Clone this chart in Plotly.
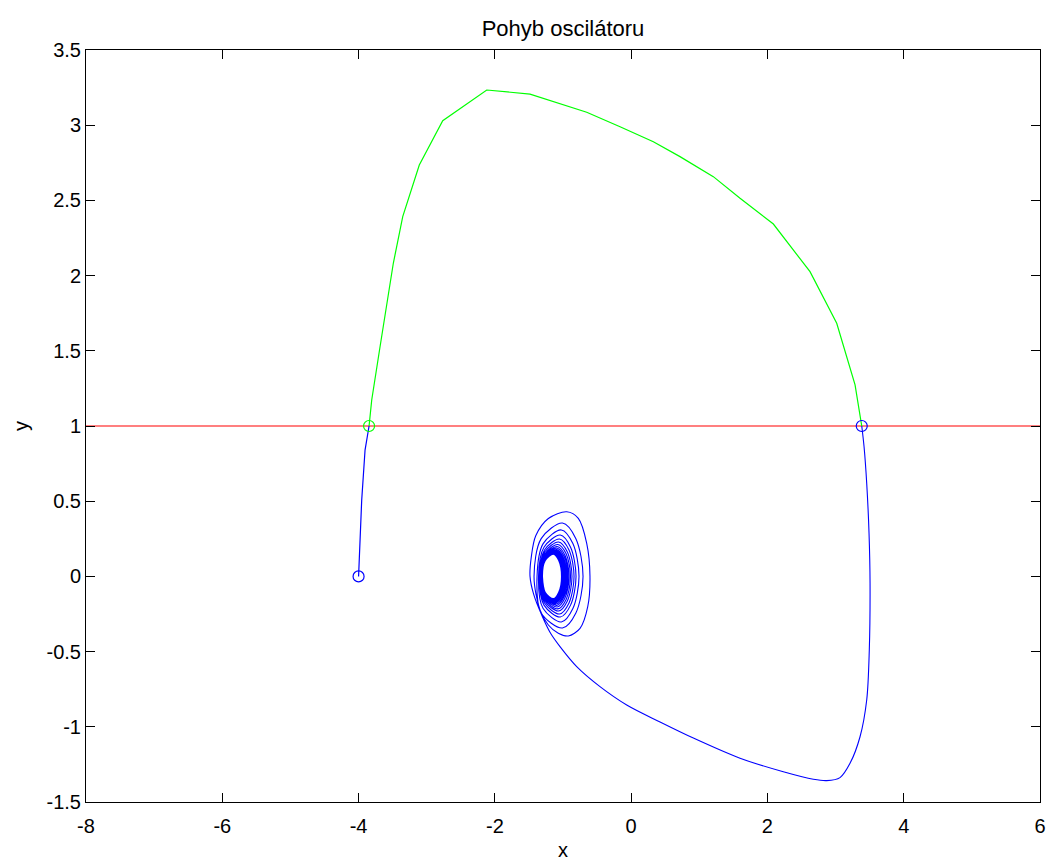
import plotly.graph_objects as go

# ---------------- data ----------------
# start segment (blue), below y = 1
start_x = [-4.0, -3.954, -3.905, -3.846]
start_y = [0.0, 0.508, 0.840, 1.0]

# part above the threshold (green)
green_x = [-3.846, -3.807, -3.685, -3.564, -3.490, -3.352, -3.109, -2.765, -2.119,
           -1.484, -1.142, -0.652, -0.163, 0.326, 0.717, 1.206, 1.598, 2.087, 2.625,
           3.017, 3.286, 3.384]
green_y = [1.0, 1.173, 1.527, 1.882, 2.082, 2.392, 2.735, 3.030, 3.234,
           3.207, 3.156, 3.086, 2.990, 2.890, 2.791, 2.658, 2.514, 2.343, 2.026,
           1.683, 1.273, 1.0]

# descent on the right, the long bottom arc and the spiral around the equilibrium (blue)
path_x = [
    3.384, 3.418, 3.457, 3.491, 3.506, 3.495, 3.457, 3.359, 3.212, 3.065, 2.870,
    2.674, 2.233, 1.598, 0.913, 0.424, -0.065, -0.457, -0.799, -1.044, -1.18,
    -1.30, -1.43,
    -1.484, -1.465, -1.40, -1.215, -0.945, -0.775, -0.652, -0.604, -0.637, -0.750, -0.922, -1.069, -1.215, -1.337,
    -1.425, -1.320, -1.008, -0.811, -0.706, -0.811, -1.008, -1.320,
    -1.381, -1.291, -1.024, -0.855, -0.765, -0.855, -1.024, -1.291,
    -1.359, -1.279, -1.040, -0.889, -0.809, -0.889, -1.040, -1.279,
    -1.345, -1.271, -1.051, -0.912, -0.838, -0.912, -1.051, -1.271,
    -1.337, -1.269, -1.065, -0.936, -0.868, -0.936, -1.065, -1.269,
    -1.330, -1.266, -1.075, -0.954, -0.890, -0.954, -1.075, -1.266,
    -1.325, -1.264, -1.085, -0.971, -0.910, -0.971, -1.085, -1.264,
    -1.320, -1.263, -1.093, -0.984, -0.927, -0.984, -1.093, -1.263,
    -1.316, -1.261, -1.099, -0.997, -0.942, -0.997, -1.099, -1.261,
    -1.313, -1.261, -1.106, -1.008, -0.956, -1.008, -1.106, -1.261,
    -1.310, -1.260, -1.112, -1.018, -0.968, -1.018, -1.112, -1.260,
    -1.308, -1.260, -1.118, -1.028, -0.980, -1.028, -1.118, -1.260,
    -1.306, -1.260, -1.123, -1.036, -0.990, -1.036, -1.123, -1.260,
    -1.305, -1.260, -1.129, -1.045, -1.000, -1.045, -1.129, -1.260,
    -1.304, -1.261, -1.132, -1.051, -1.008, -1.051, -1.132, -1.261,
    -1.303, -1.261, -1.136, -1.057, -1.015, -1.057, -1.136, -1.261,
    -1.302, -1.261, -1.140, -1.063, -1.022, -1.063, -1.140, -1.261,
    -1.302,
]
path_y = [
    1.0, 0.862, 0.619, 0.287, -0.046, -0.489, -0.822, -1.066, -1.243, -1.338, -1.358,
    -1.349, -1.299, -1.209, -1.075, -0.968, -0.855, -0.733, -0.600, -0.467, -0.38,
    -0.27, -0.12,
    0.0, 0.13, 0.27, 0.385, 0.430, 0.386, 0.220, 0.0, -0.201, -0.345, -0.396, -0.378, -0.323, -0.223,
    0.0, 0.251, 0.355, 0.251, 0.0, -0.243, -0.343, -0.243,
    0.0, 0.218, 0.309, 0.218, 0.0, -0.214, -0.303, -0.214,
    0.0, 0.194, 0.275, 0.194, 0.0, -0.191, -0.270, -0.191,
    0.0, 0.176, 0.249, 0.176, 0.0, -0.177, -0.250, -0.177,
    0.0, 0.162, 0.229, 0.162, 0.0, -0.163, -0.230, -0.163,
    0.0, 0.150, 0.212, 0.150, 0.0, -0.153, -0.216, -0.153,
    0.0, 0.141, 0.199, 0.141, 0.0, -0.144, -0.203, -0.144,
    0.0, 0.134, 0.189, 0.134, 0.0, -0.136, -0.193, -0.136,
    0.0, 0.127, 0.180, 0.127, 0.0, -0.130, -0.184, -0.130,
    0.0, 0.122, 0.173, 0.122, 0.0, -0.124, -0.176, -0.124,
    0.0, 0.118, 0.167, 0.118, 0.0, -0.120, -0.170, -0.120,
    0.0, 0.115, 0.162, 0.115, 0.0, -0.117, -0.165, -0.117,
    0.0, 0.112, 0.158, 0.112, 0.0, -0.113, -0.160, -0.113,
    0.0, 0.110, 0.155, 0.110, 0.0, -0.110, -0.156, -0.110,
    0.0, 0.107, 0.152, 0.107, 0.0, -0.108, -0.153, -0.108,
    0.0, 0.106, 0.150, 0.106, 0.0, -0.106, -0.150, -0.106,
    0.0, 0.105, 0.148, 0.105, 0.0, -0.105, -0.148, -0.105,
    0.0,
]

# threshold line
threshold_x = [-8, 6]
threshold_y = [1, 1]

# marked points
blue_mark_x = [-4.0, 3.384]
blue_mark_y = [0.0, 1.0]
green_mark_x = [-3.846]
green_mark_y = [1.0]

x_ticks = [-8, -6, -4, -2, 0, 2, 4, 6]
x_ticktext = ["-8", "-6", "-4", "-2", "0", "2", "4", "6"]
y_ticks = [-1.5, -1, -0.5, 0, 0.5, 1, 1.5, 2, 2.5, 3, 3.5]
y_ticktext = ["-1.5", "-1", "-0.5", "0", "0.5", "1", "1.5", "2", "2.5", "3", "3.5"]

BLUE = "#0000FF"
GREEN = "#00FF00"
RED = "#FF0000"
FONT = "Liberation Sans, Arial, Helvetica, sans-serif"

fig = go.Figure()
fig.add_trace(go.Scatter(x=threshold_x, y=threshold_y, mode="lines",
                         line=dict(color=RED, width=1.2), hoverinfo="skip"))
fig.add_trace(go.Scatter(x=start_x, y=start_y, mode="lines",
                         line=dict(color=BLUE, width=1.2)))
fig.add_trace(go.Scatter(x=green_x, y=green_y, mode="lines",
                         line=dict(color=GREEN, width=1.2)))
fig.add_trace(go.Scatter(x=path_x, y=path_y, mode="lines",
                         line=dict(color=BLUE, width=1.1, shape="spline", smoothing=0.9)))
fig.add_trace(go.Scatter(x=green_mark_x, y=green_mark_y, mode="markers",
                         marker=dict(symbol="circle-open", size=11, color=GREEN,
                                     line=dict(width=1.2, color=GREEN))))
fig.add_trace(go.Scatter(x=blue_mark_x, y=blue_mark_y, mode="markers",
                         marker=dict(symbol="circle-open", size=11, color=BLUE,
                                     line=dict(width=1.2, color=BLUE))))

axis_common = dict(
    showgrid=False, zeroline=False, showline=True, linecolor="#000000", linewidth=1,
    mirror="ticks", ticks="inside", ticklen=9, tickcolor="#000000", tickwidth=1,
    tickfont=dict(family=FONT, size=20, color="#000000"), automargin=False,
)

fig.update_layout(
    width=1053, height=861,
    margin=dict(l=86, r=13, t=50, b=59, autoexpand=False),
    paper_bgcolor="#FFFFFF", plot_bgcolor="#FFFFFF",
    showlegend=False,
    font=dict(family=FONT, size=20, color="#000000"),
    title=dict(text="Pohyb oscilátoru", x=0.5, xref="paper", xanchor="center",
               y=1 - 28 / 861, yref="container", yanchor="middle",
               font=dict(family=FONT, size=22, color="#000000")),
    xaxis=dict(range=[-8, 6], tickvals=x_ticks, ticktext=x_ticktext,
               ticklabelstandoff=6,
               title=dict(text="x", standoff=8, font=dict(family=FONT, size=20)),
               **axis_common),
    yaxis=dict(range=[-1.5, 3.5], tickvals=y_ticks, ticktext=y_ticktext,
               ticklabelstandoff=0,
               title=dict(text="y", standoff=12, font=dict(family=FONT, size=20)),
               **axis_common),
)

fig.write_html("out.html")
